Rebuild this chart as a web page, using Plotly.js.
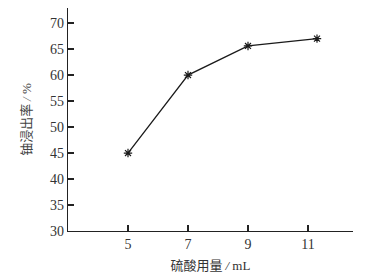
<!DOCTYPE html>
<html><head><meta charset="utf-8">
<script src="https://cdn.plot.ly/plotly-3.0.1.min.js"></script>
<style>html,body{margin:0;padding:0;background:#fff}#c{width:378px;height:278px}</style>
</head><body><div id="c"></div>
<script>
var acidVolume = [5, 7, 9, 11.3];
var leachRate = [45, 60, 65.6, 67];
var xTicks = [5, 7, 9, 11];
var yTicks = [30, 35, 40, 45, 50, 55, 60, 65, 70];
var fontFam = '"Liberation Serif", "Noto Sans CJK SC", serif';
var serifSpan = function (t) { return '<span style="font-family:Liberation Serif">' + t + '</span>'; };
var trace = {
  x: acidVolume, y: leachRate, type: 'scatter', mode: 'lines+markers',
  line: {color: '#1a1a1a', width: 1.3},
  marker: {symbol: 'asterisk-open', size: 7, color: '#1a1a1a', line: {color: '#1a1a1a', width: 1.2}},
  hoverinfo: 'skip'
};
var layout = {
  width: 378, height: 278,
  margin: {l: 68, r: 25, t: 8, b: 47},
  paper_bgcolor: '#fff', plot_bgcolor: '#fff',
  showlegend: false,
  font: {family: fontFam, size: 13, color: '#333'},
  xaxis: {
    range: [3, 12.5], tickvals: xTicks, ticktext: xTicks.map(String),
    ticks: 'inside', ticklen: 6, tickwidth: 1.2, tickcolor: '#222',
    showline: true, linecolor: '#222', linewidth: 1.3, showgrid: false, zeroline: false,
    tickfont: {family: fontFam, size: 14, color: '#333'},
    title: {text: '硫酸用量 ' + serifSpan('<i>/</i> mL'), font: {family: '"Noto Sans CJK SC", "Liberation Serif", sans-serif', size: 13, color: '#333'}, standoff: 9}
  },
  yaxis: {
    range: [30, 72.9], tickvals: yTicks, ticktext: yTicks.map(String),
    ticks: 'inside', ticklen: 6, tickwidth: 1.2, tickcolor: '#222',
    showline: true, linecolor: '#222', linewidth: 1.3, showgrid: false, zeroline: false,
    tickfont: {family: fontFam, size: 14, color: '#333'},
    title: {text: '铀浸出率 ' + serifSpan('<i>/</i> %'), font: {family: '"Noto Sans CJK SC", "Liberation Serif", sans-serif', size: 13, color: '#444'}, standoff: 15}
  }
};
Plotly.newPlot('c', [trace], layout, {staticPlot: true, displayModeBar: false});
</script></body></html>
